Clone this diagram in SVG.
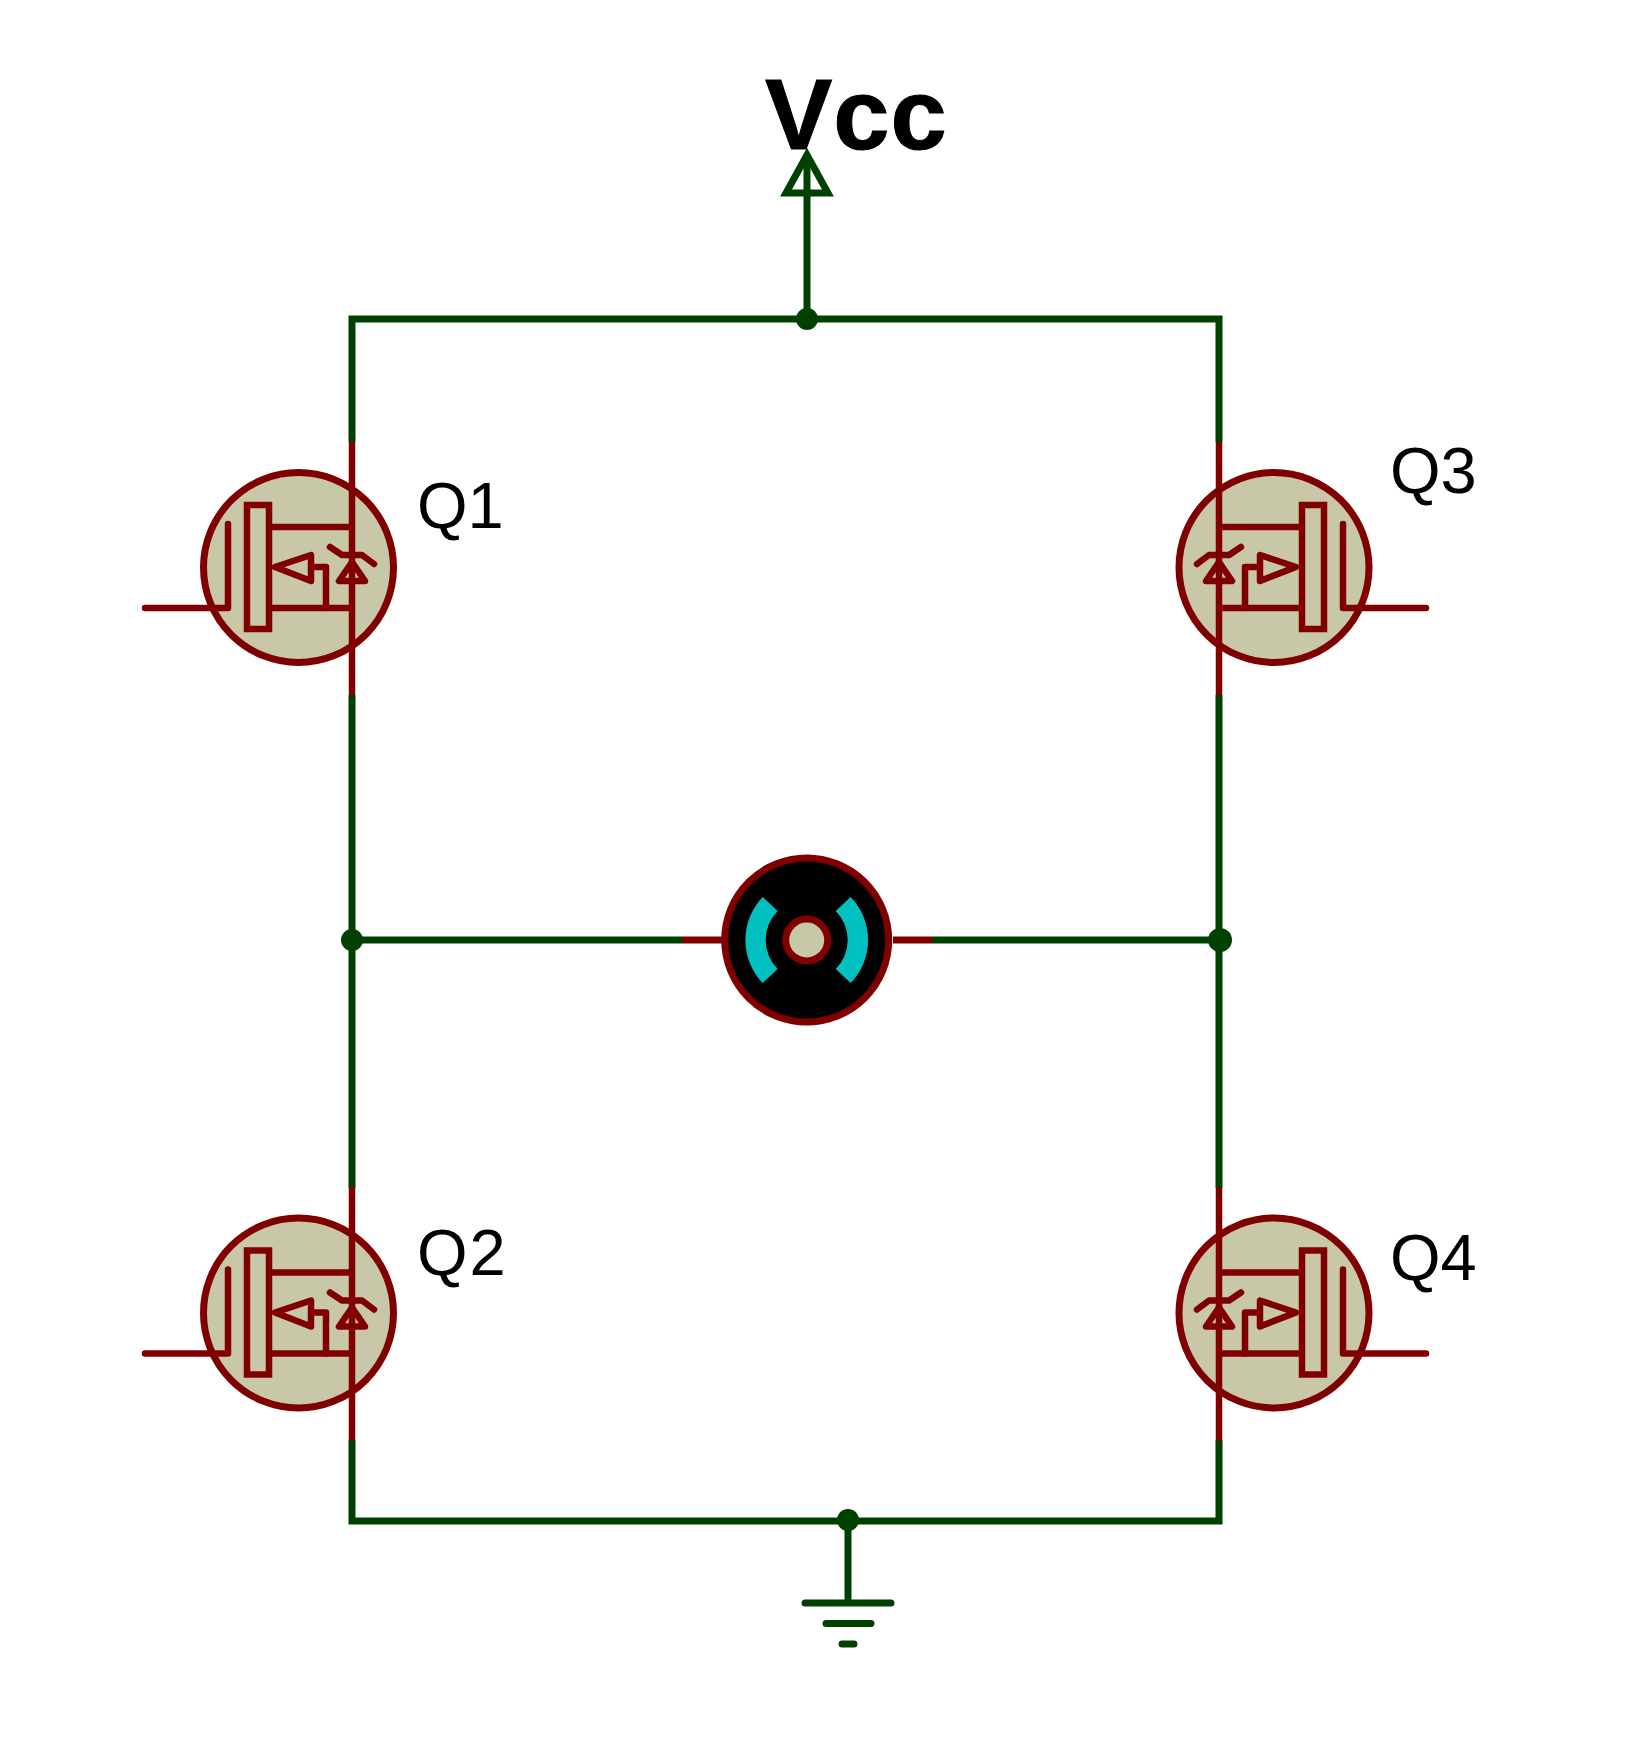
<svg xmlns="http://www.w3.org/2000/svg" width="1650" height="1753" viewBox="0 0 1650 1753">
<style>
.w{fill:none;stroke:#004000;stroke-width:7;stroke-linejoin:miter}
.n{fill:#004000}
.c{fill:#c8c8a8;stroke:#800000;stroke-width:7}
.m{fill:none;stroke:#800000;stroke-width:6.500;stroke-linecap:round;stroke-linejoin:round}
.lbl{font-family:"Liberation Sans",Arial,sans-serif;font-size:65px;fill:#000}
.vcc{font-family:"Liberation Sans",Arial,sans-serif;font-size:101px;font-weight:bold;letter-spacing:1px;fill:#000;stroke:#000;stroke-width:1}
</style>
<defs>
<g id="fet">
<path class="m" style="stroke-linecap:butt" d="M352 442V695"/>
<path class="m" d="M145 608H228V524"/>
<rect class="m" style="stroke-linejoin:miter" x="247" y="505" width="22" height="124"/>
<path class="m" style="stroke-linecap:butt" d="M269 527H352M269 608H352"/>
<path class="m" d="M275 567L311 555V581ZM311 567H326V608"/>
<path class="m" d="M339 581H365L352 562ZM330 547L342 555H362L374 564"/>
</g>
</defs>
<g id="connectors">
<path class="w" d="M352 442V319H1219V442"/>
<path class="w" d="M352 695V1188M1219 695V1188"/>
<path class="w" d="M352 1440V1521H1219V1440"/>
<path class="w" d="M352 940H682M932 940H1219"/>
<path class="w" d="M807 319V195"/>
<path class="w" d="M848 1521V1602"/>
<circle class="n" cx="807" cy="319" r="11"/>
<circle class="n" cx="352" cy="940" r="11"/>
<circle class="n" cx="1220" cy="940" r="12"/>
<circle class="n" cx="848" cy="1520" r="11"/>
</g>
<g id="Q1">
<circle class="c" cx="298.500" cy="567.500" r="95"/>
<use href="#fet"/>
<text class="lbl" x="417" y="528">Q1</text>
</g>
<g id="Q2">
<circle class="c" cx="298.500" cy="1313" r="95"/>
<use href="#fet" transform="translate(0,745.500)"/>
<text class="lbl" x="417" y="1275" letter-spacing="2">Q2</text>
</g>
<g id="Q3">
<circle class="c" cx="1274" cy="567.500" r="95"/>
<use href="#fet" transform="translate(1571,0) scale(-1,1)"/>
<text class="lbl" x="1390" y="493">Q3</text>
</g>
<g id="Q4">
<circle class="c" cx="1274" cy="1313" r="95"/>
<use href="#fet" transform="translate(1571,745.500) scale(-1,1)"/>
<text class="lbl" x="1390" y="1280">Q4</text>
</g>
<g id="motor">
<path d="M682 940H722M893 940H932" fill="none" stroke="#800000" stroke-width="7"/>
<circle cx="806.700" cy="940" r="82" fill="#000" stroke="#800000" stroke-width="7"/>
<path fill="#00c0c0" d="M762.700 897A62 62 0 0 0 762.700 983L777.700 969A41 41 0 0 1 777.700 911Z"/>
<path fill="#00c0c0" d="M850.700 897A62 62 0 0 1 850.700 983L835.700 969A41 41 0 0 0 835.700 911Z"/>
<circle cx="806.700" cy="940" r="21" fill="#c8c8a8" stroke="#800000" stroke-width="7"/>
</g>
<g id="vcc">
<path class="w" d="M807 155L786 193H828Z"/>
<path class="w" d="M807 155V195"/>
<text class="vcc" x="765" y="149">Vcc</text>
</g>
<g id="ground">
<path d="M805 1603H891M826 1623.500H871M842 1644H854" fill="none" stroke="#004000" stroke-width="7" stroke-linecap="round"/>
</g>
</svg>
